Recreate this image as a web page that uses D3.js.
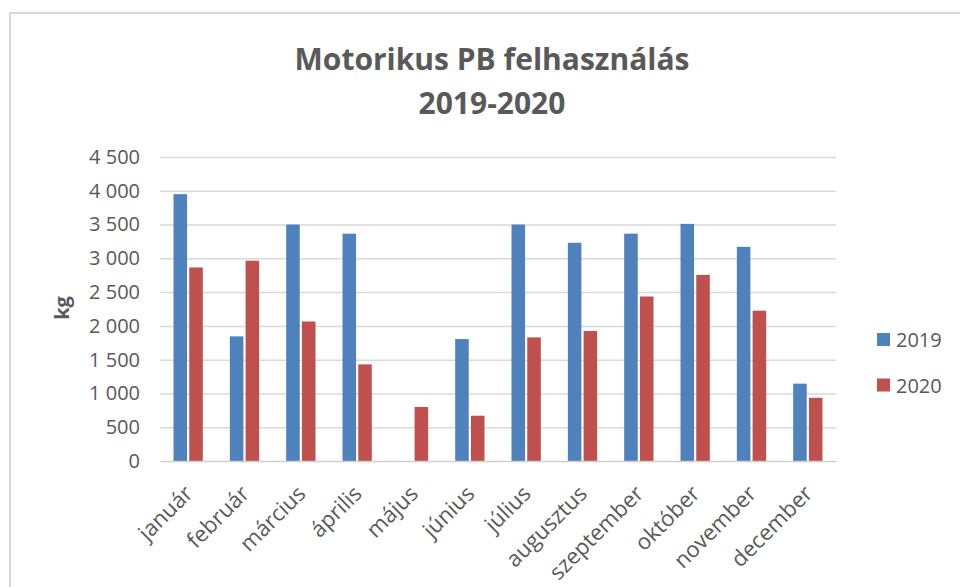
<!DOCTYPE html>
<html>
<head>
<meta charset="utf-8">
<script src="https://cdn.jsdelivr.net/npm/d3@7"></script>
<style>
  body { margin: 0; background: #fff; }
  svg text { font-family: "Open Sans", sans-serif; fill: #595959; }
</style>
</head>
<body>
<div id="chart"></div>
<script>
// data (kg)
var months = ["január", "február", "március", "április", "május", "június",
              "július", "augusztus", "szeptember", "október", "november", "december"];
var series = ["2019", "2020"];
var values2019 = [3950, 1845, 3500, 3365, 0, 1805, 3500, 3230, 3365, 3510, 3170, 1145];
var values2020 = [2865, 2965, 2065, 1430, 800, 670, 1830, 1925, 2435, 2755, 2225, 935];
var yTicks = [0, 500, 1000, 1500, 2000, 2500, 3000, 3500, 4000, 4500];
var colors = ["#4f81bd", "#c0504d"];

var W = 960, H = 587;
var margin = { left: 160, right: 124, top: 157, bottom: 126 };
var width = W - margin.left - margin.right;
var height = H - margin.top - margin.bottom;

var svg = d3.select("#chart").append("svg")
    .attr("width", W)
    .attr("height", H);

// chart area border
svg.append("rect")
    .attr("x", 10).attr("y", 13)
    .attr("width", W).attr("height", H)
    .attr("fill", "none")
    .attr("stroke", "#d9d9d9")
    .attr("stroke-width", 2);

// title
var title = svg.append("text")
    .attr("x", 492)
    .attr("text-anchor", "middle")
    .attr("font-size", "30px")
    .attr("font-weight", 700);
title.append("tspan").attr("x", 492).attr("y", 70).text("Motorikus PB felhasználás");
title.append("tspan").attr("x", 492).attr("y", 114).text("2019-2020");

var g = svg.append("g")
    .attr("transform", "translate(" + margin.left + "," + margin.top + ")");

var x0 = d3.scaleBand().domain(months).range([0, width]).paddingInner(0.48).paddingOuter(0.24);
var x1 = d3.scaleBand().domain(series).range([0, x0.bandwidth()]).paddingInner(0.14);
var y = d3.scaleLinear().domain([0, 4500]).range([height, 0]);

// gridlines
g.selectAll(".grid")
    .data(yTicks.slice(1))
    .enter().append("line")
    .attr("class", "grid")
    .attr("x1", 0).attr("x2", width)
    .attr("y1", function(d) { return y(d) + 0.5; })
    .attr("y2", function(d) { return y(d) + 0.5; })
    .attr("stroke", "#d9d9d9")
    .attr("stroke-width", 1.5);

// y axis labels
var fmt = function(d) { return d3.format(",")(d).replace(",", " "); };
var yAxis = g.append("g")
    .call(d3.axisLeft(y).tickValues(yTicks).tickFormat(fmt).tickSize(0).tickPadding(20));
yAxis.select(".domain").remove();
yAxis.selectAll("text")
    .attr("font-size", "20px")
    .attr("font-family", "Open Sans")
    .attr("fill", "#595959");

// bars
var rows = months.map(function(m, i) {
    return { month: m, vals: [values2019[i], values2020[i]] };
});
var grp = g.selectAll(".month")
    .data(rows)
    .enter().append("g")
    .attr("transform", function(d) { return "translate(" + x0(d.month) + ",0)"; });
grp.selectAll("rect")
    .data(function(d) { return d.vals.map(function(v, i) { return { s: series[i], v: v, i: i }; }); })
    .enter().append("rect")
    .filter(function(d) { return d.v > 0; })
    .attr("x", function(d) { return x1(d.s); })
    .attr("width", x1.bandwidth())
    .attr("y", function(d) { return y(d.v); })
    .attr("height", function(d) { return height - y(d.v); })
    .attr("fill", function(d) { return colors[d.i]; });

// x axis
var xAxis = g.append("g")
    .attr("transform", "translate(0," + height + ")")
    .call(d3.axisBottom(x0).tickSize(0).tickPadding(0));
xAxis.select(".domain").attr("stroke", "#d0d0d0").attr("stroke-width", 1.5);
xAxis.selectAll("text")
    .attr("font-size", "22px")
    .attr("font-family", "Open Sans")
    .attr("fill", "#595959")
    .attr("text-anchor", "end")
    .attr("dy", 0)
    .attr("transform", "translate(6,34) rotate(-45)");

// y label
svg.append("text")
    .attr("transform", "translate(69,308) rotate(-90)")
    .attr("text-anchor", "middle")
    .attr("font-size", "20px")
    .attr("font-weight", 700)
    .text("kg");

// legend
var legend = svg.selectAll(".legend")
    .data(series)
    .enter().append("g")
    .attr("transform", function(d, i) { return "translate(877," + (333 + i * 45.5) + ")"; });
legend.append("rect")
    .attr("width", 13).attr("height", 13)
    .attr("fill", function(d, i) { return colors[i]; });
legend.append("text")
    .attr("x", 19).attr("y", 7)
    .attr("dy", "0.35em")
    .attr("font-size", "20px")
    .text(function(d) { return d; });
</script>
</body>
</html>
